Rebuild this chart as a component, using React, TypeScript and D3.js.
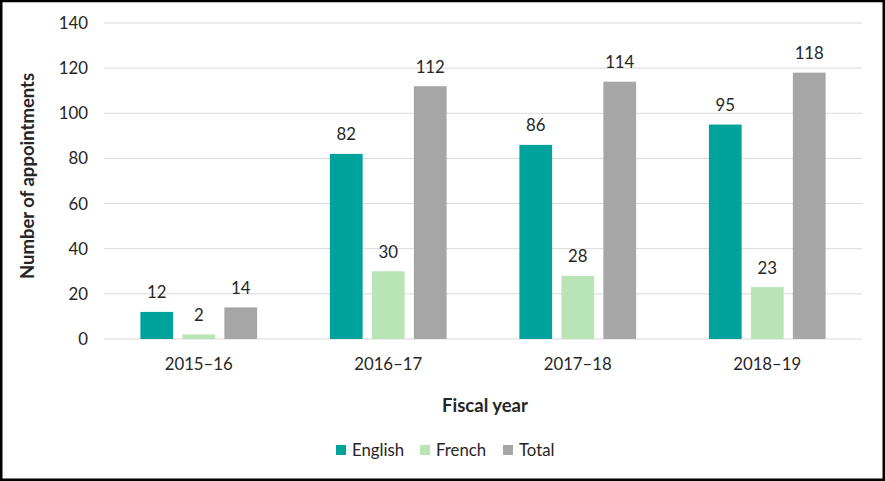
import React from "react";
import * as d3 from "d3";

const categories = ["2015–16", "2016–17", "2017–18", "2018–19"];
const seriesNames = ["English", "French", "Total"];
const english = [12, 82, 86, 95];
const french = [2, 30, 28, 23];
const total = [14, 112, 114, 118];
const yTicks = [0, 20, 40, 60, 80, 100, 120, 140];
const colors = ["#00A39B", "#B8E4B6", "#A6A6A6"];

const W = 885;
const H = 481;
const FONT = "Lato, Carlito, Calibri, sans-serif";
const FS = 16.8;
const FSB = 18.5;

export default function App() {
  const seriesValues = [english, french, total];
  const x0 = d3.scaleBand<string>().domain(categories).range([104, 862]).paddingInner(0).paddingOuter(0);
  const bw = x0.bandwidth();
  const outer = bw * 0.192;
  const x1 = d3.scaleBand<string>().domain(seriesNames).range([outer, bw - outer]).paddingInner(0.22).paddingOuter(0);
  const y = d3.scaleLinear().domain([0, 140]).range([339, 23]);

  const legendStarts = [336, 420, 503];

  return (
    <svg
      width={W}
      height={H}
      style={{ display: "block", position: "fixed", left: 0, top: 0, fontFamily: FONT }}
    >
      <rect x={0} y={0} width={W} height={H} fill="#fff" />
      {yTicks.map((t) => (
        <g key={t}>
          <line x1={104} x2={862} y1={y(t)} y2={y(t)} stroke="#D9D9D9" strokeWidth={1} />
          <text x={88} y={y(t) + 6} textAnchor="end" fontSize={FS} fill="#262626">
            {t}
          </text>
        </g>
      ))}
      {categories.map((c, ci) => (
        <g key={c} transform={`translate(${x0(c)},0)`}>
          {seriesNames.map((s, si) => {
            const v = seriesValues[si][ci];
            const bx = x1(s)!;
            return (
              <g key={s}>
                <rect x={bx} y={y(v)} width={x1.bandwidth()} height={y(0) - y(v)} fill={colors[si]} />
                <text x={bx + x1.bandwidth() / 2} y={y(v) - 13.5} textAnchor="middle" fontSize={FS} fill="#262626">
                  {v}
                </text>
              </g>
            );
          })}
          <text x={bw / 2} y={369.5} textAnchor="middle" fontSize={FS} fill="#262626">
            {c}
          </text>
        </g>
      ))}
      <text
        transform={`translate(33.5,176) rotate(-90)`}
        textAnchor="middle"
        fontSize={FSB}
        fontWeight="bold"
        fill="#262626"
      >
        Number of appointments
      </text>
      <text x={485} y={412} textAnchor="middle" fontSize={FSB} fontWeight="bold" fill="#262626">
        Fiscal year
      </text>
      {seriesNames.map((s, si) => (
        <g key={s} transform={`translate(${legendStarts[si]},0)`}>
          <rect x={0} y={445} width={10} height={10} fill={colors[si]} />
          <text x={16} y={455.5} fontSize={FS} fill="#262626">
            {s}
          </text>
        </g>
      ))}
      <rect x={1.25} y={1} width={W - 2.5} height={H - 2.25} fill="none" stroke="#000" strokeWidth={2.5} />
    </svg>
  );
}
